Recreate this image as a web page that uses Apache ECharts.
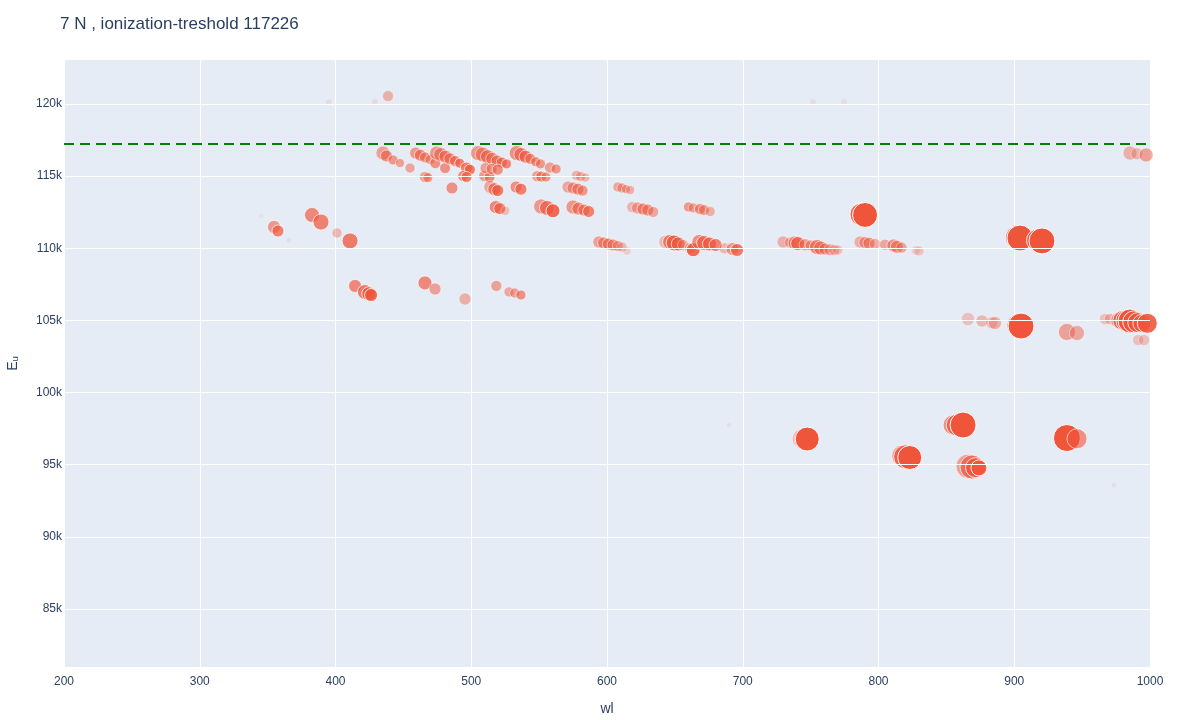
<!DOCTYPE html>
<html>
<head>
<meta charset="utf-8">
<script src="https://cdn.jsdelivr.net/npm/echarts@6/dist/echarts.min.js"></script>
<style>
  html, body { margin: 0; padding: 0; background: #fff; }
  #chart { width: 1200px; height: 720px; }
</style>
</head>
<body>
<div id="chart"></div>
<script>
// line wavelength (nm)
var wl = [
  395, 429, 438.7, 751.7, 774.6,
  345.1, 354.7, 357.6, 365.7, 382.7, 389.3, 401.1, 410.7,
  414.4, 421.7, 424.5, 426.2, 465.9, 473.3, 495.4, 518.5, 527.8, 532, 536.6,
  435, 437.5, 442.4, 447.5, 454.9, 459, 462.5, 466, 469.6, 473.5, 480.7,
  474.5, 477.5, 481, 484.3, 488, 491.5, 496.5, 499, 465.9, 468, 485.8, 494, 496.5,
  505, 508.5, 512, 515.5, 519, 522.5, 526, 509.5, 513.5, 514, 517, 519.5, 518, 521, 525,
  533.5, 536.6, 540, 543.5, 547.5, 551, 510.5, 515, 519.5, 548.5, 551.5, 555, 533, 536.6,
  551.5, 555.8, 560.2, 558, 562.5, 571.3, 575, 578.6, 582, 577.5, 580.5, 584,
  574.9, 579, 583, 586.5, 608, 611, 614, 617, 618.5, 622.5, 626.5, 630, 634,
  660, 663.5, 668.5, 671.5, 676,
  594, 597.5, 601, 604.5, 608, 611, 614.7, 643, 646.5, 649.5, 652.5, 656, 661, 663.5,
  668, 671.5, 675.5, 680, 686.5, 692.5, 695.8,
  729.7, 734.8, 738.5, 740.5, 745.9, 750, 754.7, 757.5, 760.6, 764.3, 767.5, 770,
  787.5, 790.1, 786.4, 790, 793, 797.4, 804.8, 811, 813.6, 817, 827.5, 829.8,
  902, 904.2, 917.5, 920.4, 865.9, 876.2, 883.5, 885.8, 903, 905, 938.8, 946.2,
  966.8, 970.5, 977, 980, 983, 985.3, 988, 991, 994, 998, 991.2, 995.6, 985.3, 990.4, 997.1,
  689.9, 744, 745.9, 747.5, 855, 858, 862.3, 818, 820, 823, 866, 868.9, 871.5, 874, 938.8, 946.2, 973.5
];

// upper level energy (cm-1)
var eu = [
  120140, 120140, 120550, 120140, 120140,
  112240, 111480, 111200, 110580, 112310, 111820, 111060, 110510,
  107390, 106970, 106850, 106760, 107600, 107180, 106490, 107390, 106970, 106900, 106760,
  116600, 116400, 116120, 115910, 115560, 116600, 116450, 116300, 116150, 115900, 115560,
  116600, 116500, 116350, 116200, 116050, 115900, 115560, 115450, 114940, 114900, 114180, 115010, 114940,
  116600, 116500, 116350, 116200, 116050, 115950, 115850, 115010, 114940, 114250, 114100, 114000, 112860, 112750, 112600,
  116600, 116500, 116350, 116200, 116000, 115850, 115560, 115500, 115450, 115000, 114970, 114940, 114250, 114100,
  112900, 112800, 112600, 115600, 115500, 114250, 114180, 114100, 114000, 115050, 114970, 114900,
  112860, 112750, 112650, 112550, 114250, 114180, 114100, 114040, 112860, 112800, 112720, 112650, 112520,
  112860, 112800, 112720, 112650, 112550,
  110440, 110370, 110300, 110230, 110160, 110090, 109810, 110440, 110440, 110370, 110300, 110230, 110000, 109900,
  110440, 110370, 110300, 110230, 110000, 109950, 109880,
  110440, 110400, 110370, 110330, 110250, 110200, 110090, 110020, 109950, 109900, 109880, 109880,
  112350, 112310, 110440, 110400, 110350, 110300, 110250, 110200, 110100, 110050, 109850, 109810,
  110750, 110710, 110550, 110510, 105100, 104960, 104840, 104820, 104650, 104610, 104200, 104130,
  105100, 105100, 105000, 105000, 104980, 104960, 104900, 104850, 104800, 104800, 103640, 103640, 116600, 116550, 116470,
  97750, 96800, 96780, 96780, 97750, 97750, 97750, 95600, 95550, 95500, 94900, 94840, 94800, 94780, 96850, 96800, 93600
];

// marker diameter (line strength)
var strength = [
  6, 6, 11, 6, 6,
  5, 13, 12, 5, 15, 16, 10, 16,
  13, 15, 14, 13, 14, 12, 12, 11, 10, 10, 10,
  14, 12, 10, 9, 10, 12, 12, 11, 10, 11, 11,
  14, 14, 13, 12, 11, 10, 12, 11, 11, 10, 12, 11, 11,
  15, 15, 14, 13, 12, 11, 10, 11, 11, 13, 13, 12, 13, 12, 9,
  15, 14, 13, 11, 10, 10, 11, 11, 11, 11, 11, 10, 12, 12,
  15, 15, 14, 11, 10, 12, 12, 12, 11, 10, 10, 9,
  14, 13, 12, 12, 10, 10, 9, 9, 11, 12, 12, 12, 11,
  10, 10, 11, 11, 10,
  12, 12, 12, 12, 11, 10, 8, 13, 15, 16, 14, 11, 11, 14,
  15, 15, 14, 13, 11, 13, 13,
  12, 11, 14, 14, 12, 11, 15, 14, 12, 12, 11, 10,
  23, 25, 12, 12, 12, 11, 11, 13, 13, 11, 9, 10,
  23, 26, 23, 26, 13, 12, 12, 13, 23, 26, 17, 15,
  11, 11, 16, 20, 22, 24, 22, 20, 18, 20, 11, 11, 14, 12, 14,
  5, 20, 22, 24, 20, 22, 26, 22, 24, 24, 24, 24, 20, 16, 27, 20, 5
];

// marker opacity
var alpha = [
  .12, .12, .4, .1, .1,
  .08, .55, .7, .1, .65, .7, .35, .75,
  .65, .75, .8, .85, .65, .5, .4, .5, .45, .5, .6,
  .5, .6, .55, .5, .45, .55, .6, .55, .5, .6, .6,
  .55, .55, .6, .6, .65, .7, .7, .75, .5, .55, .6, .6, .7,
  .55, .55, .6, .55, .6, .65, .65, .55, .65, .45, .65, .75, .65, .7, .3,
  .6, .6, .65, .6, .6, .55, .5, .55, .6, .5, .6, .55, .6, .7,
  .55, .7, .85, .5, .55, .45, .5, .6, .55, .4, .4, .35,
  .55, .6, .6, .7, .45, .45, .45, .4, .35, .45, .6, .55, .45,
  .55, .45, .6, .5, .4,
  .5, .55, .6, .55, .45, .35, .2, .35, .65, .8, .7, .4, .4, .85,
  .6, .7, .75, .7, .35, .55, .75,
  .4, .4, .6, .75, .5, .5, .65, .55, .45, .4, .35, .3,
  .9, 1, .4, .5, .55, .4, .45, .55, .55, .45, .2, .25,
  .8, 1, .9, 1, .3, .35, .3, .4, .85, 1, .5, .45,
  .3, .35, .6, .8, .9, 1, .9, .85, .8, .9, .3, .3, .4, .35, .5,
  .1, .6, .8, 1, .6, .8, 1, .6, .8, 1, .5, .7, .8, .9, 1, .6, .1
];

var yTicks = [85000, 90000, 95000, 100000, 105000, 110000, 115000, 120000];
var threshold = 117226;

var dom = document.getElementById("chart");
var myChart = echarts.init(dom);
var font = 'Liberation Sans, Arial, sans-serif';
var ink = '#2a3f5f';

var points = wl.map(function (w, i) {
    return {
        value: [w, eu[i]],
        symbolSize: strength[i],
        itemStyle: { opacity: alpha[i] }
    };
});

var option = {
    animation: false,
    textStyle: { fontFamily: font },
    title: {
        text: '7 N , ionization-treshold ' + threshold,
        left: 55,
        top: 11,
        textStyle: { fontFamily: font, fontSize: 17, fontWeight: 'normal', color: ink }
    },
    grid: {
        left: 64, right: 50, top: 60, bottom: 53,
        containLabel: false, outerBoundsMode: 'none',
        show: true, backgroundColor: '#E5ECF6', borderWidth: 0
    },
    xAxis: {
        type: 'value',
        min: 200, max: 1000, interval: 100,
        name: 'wl', nameLocation: 'middle', nameGap: 35,
        nameTextStyle: { fontSize: 14, color: ink },
        axisLine: { show: false },
        axisTick: { show: false },
        axisLabel: {
            color: ink, fontSize: 12, margin: 9,
            formatter: function (v) { return String(v); }
        },
        splitLine: { lineStyle: { color: '#fff', width: 1 } }
    },
    yAxis: {
        type: 'value',
        min: 80980, max: 123050,
        name: 'E\u1d64', nameLocation: 'middle', nameGap: 44,
        nameTextStyle: { fontSize: 14, color: ink },
        axisLine: { show: false },
        axisTick: { show: false },
        axisLabel: {
            color: ink, fontSize: 12, margin: 2,
            padding: [2, 0, 0, 0],
            customValues: yTicks,
            formatter: function (v) { return (v / 1000) + 'k'; }
        },
        splitLine: { show: false }
    },
    series: [
        {
            type: 'scatter',
            data: [],
            z: 1,
            silent: true,
            markLine: {
                silent: true,
                symbol: ['none', 'none'],
                label: { show: false },
                lineStyle: { color: '#fff', width: 1, type: 'solid' },
                data: yTicks.map(function (v) { return { yAxis: v }; })
            }
        },
        {
            type: 'scatter',
            data: points,
            z: 2,
            itemStyle: { color: '#EF553B', borderColor: '#fff', borderWidth: 1 }
        },
        {
            type: 'scatter',
            data: [],
            z: 3,
            silent: true,
            markLine: {
                silent: true,
                symbol: ['none', 'none'],
                label: { show: false },
                lineStyle: { color: '#008000', width: 2, type: [10, 6] },
                data: [{ yAxis: threshold }]
            }
        }
    ]
};

if (option && typeof option === 'object') {
    myChart.setOption(option);
}
</script>
</body>
</html>
